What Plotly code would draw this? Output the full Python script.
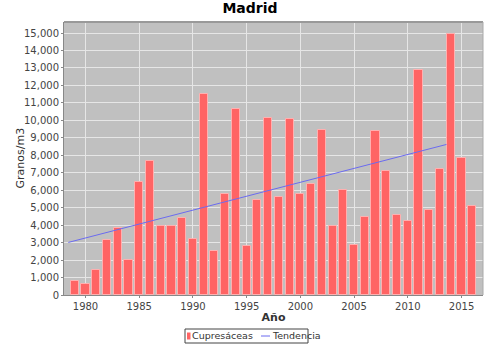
import plotly.graph_objects as go

years = list(range(1979, 2017))
granos = [800, 650, 1420, 3160, 3830, 2010, 6450, 7700, 3950, 3960,
          4420, 3200, 11480, 2510, 5790, 10670, 2800, 5460, 10110, 5630,
          10100, 5800, 6340, 9430, 3950, 5990, 2870, 4440, 9410, 7110,
          4560, 4210, 12870, 4870, 7200, 14920, 7830, 5110]
trend_x = [1978.4, 2013.6]
trend_y = [3010, 8620]

y_ticks = list(range(0, 16000, 1000))
y_labels = [f"{v:,}" for v in y_ticks]
x_ticks = [1980, 1985, 1990, 1995, 2000, 2005, 2010, 2015]

BAR_COLOR = "#ff6464"
LINE_COLOR = "#6b6bf0"

fig = go.Figure()
fig.add_trace(go.Bar(
    x=years, y=granos, name="Cupresáceas", width=0.76,
    marker=dict(color=BAR_COLOR, line=dict(color="#ffb0b0", width=1)),
    showlegend=False,
))
fig.add_trace(go.Scatter(
    x=trend_x, y=trend_y, mode="lines", name="Tendencia",
    line=dict(color=LINE_COLOR, width=1), showlegend=False,
))

W, H = 500, 348
L, R, T, B = 64, 17, 22, 53
pw, ph = W - L - R, H - T - B


def px(x):
    return (x - L) / pw


def py(y):
    return (H - B - y) / ph


font_fam = "DejaVu Sans, Verdana, sans-serif"
fig.update_layout(
    width=W, height=H,
    margin=dict(l=L, r=R, t=T, b=B, autoexpand=False),
    paper_bgcolor="white", plot_bgcolor="#c0c0c0",
    title=dict(text="<b>Madrid</b>", x=0.5, xanchor="center", y=0.99, yanchor="top",
               font=dict(family=font_fam, size=14, color="black")),
    font=dict(family=font_fam, size=10, color="#444444"),
    showlegend=False,
    bargap=0,
)
fig.update_xaxes(
    range=[1978, 2017], tickvals=x_ticks, ticktext=[str(t) for t in x_ticks],
    showgrid=True, gridcolor="#e6e6e6", gridwidth=1,
    showline=True, linecolor="#888888", linewidth=1,
    ticks="outside", ticklen=2, tickcolor="#888888",
    title=dict(text="<b>Año</b>", font=dict(size=11, color="#333333"), standoff=2),
    zeroline=False, automargin=False,
)
fig.update_yaxes(
    range=[0, 15630], tickvals=y_ticks, ticktext=y_labels,
    showgrid=True, gridcolor="#e6e6e6", gridwidth=1,
    showline=True, linecolor="#888888", linewidth=1,
    ticks="outside", ticklen=2, tickcolor="#888888",
    zeroline=False, automargin=False,
)
# y-axis title
fig.add_annotation(xref="paper", yref="paper", x=px(20), y=0.5, textangle=-90,
                   xanchor="center", yanchor="middle", showarrow=False,
                   text="Granos/m3", font=dict(size=11, color="#333333"))
# plot frame
fig.add_shape(type="line", xref="paper", yref="paper", x0=0, x1=1, y0=1, y1=1,
              line=dict(color="#999999", width=2))
fig.add_shape(type="line", xref="paper", yref="paper", x0=1, x1=1, y0=0, y1=1,
              line=dict(color="#aaaaaa", width=1))

# legend box
fig.add_shape(type="rect", xref="paper", yref="paper",
              x0=px(185), x1=px(308), y0=py(329), y1=py(343),
              line=dict(color="#444444", width=1), fillcolor="white")
fig.add_shape(type="rect", xref="paper", yref="paper",
              x0=px(187), x1=px(190.5), y0=py(332.5), y1=py(339.5),
              line=dict(width=0), fillcolor=BAR_COLOR)
fig.add_shape(type="line", xref="paper", yref="paper",
              x0=px(261), x1=px(270), y0=py(336), y1=py(336),
              line=dict(color=LINE_COLOR, width=1))
fig.add_annotation(xref="paper", yref="paper", x=px(190), y=py(335.5),
                   xanchor="left", yanchor="middle", showarrow=False,
                   text="Cupresáceas", font=dict(size=9.5, color="#333333"))
fig.add_annotation(xref="paper", yref="paper", x=px(270), y=py(335.5),
                   xanchor="left", yanchor="middle", showarrow=False,
                   text="Tendencia", font=dict(size=9.5, color="#333333"))
fig.write_html("out.html")
